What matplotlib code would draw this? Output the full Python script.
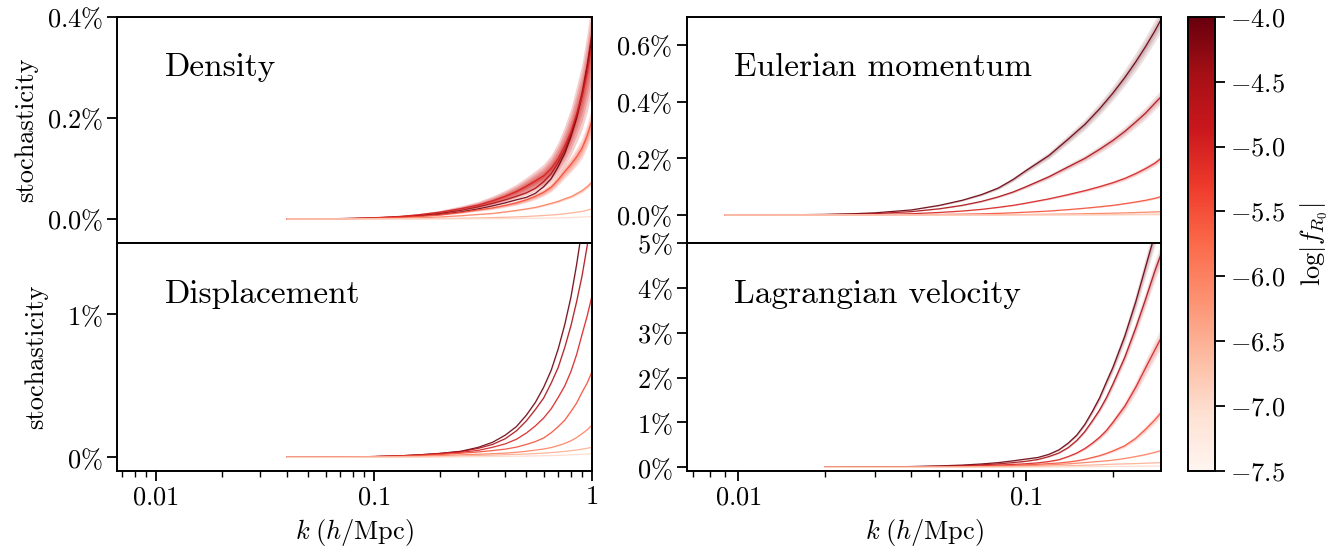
import numpy as np
import matplotlib
matplotlib.use("Agg")
import matplotlib.pyplot as plt
from matplotlib.ticker import FuncFormatter, MultipleLocator, LogLocator, NullFormatter
from matplotlib.colors import Normalize
from matplotlib.cm import ScalarMappable

plt.rcParams["font.family"] = ["cmr10"]
plt.rcParams["mathtext.fontset"] = "cm"
plt.rcParams["axes.unicode_minus"] = False
plt.rcParams["axes.formatter.use_mathtext"] = True

# log10 |f_R0| of each model
log_fr0 = [-4.0, -4.5, -5.0, -5.5, -6.0, -6.5, -7.0]

# wavenumbers (h/Mpc) shared by the two left panels
k_left = [0.04, 0.06, 0.08, 0.1, 0.13, 0.16, 0.2, 0.25, 0.3, 0.35, 0.4, 0.45,
          0.5, 0.55, 0.6, 0.65, 0.7, 0.75, 0.8, 0.85, 0.9, 0.95, 1.0]

# stochasticity in percent, one row per log_fr0 value
density = [
    [0, 0.0003, 0.001, 0.002, 0.004, 0.006, 0.009, 0.014, 0.020, 0.026, 0.032, 0.038,
     0.043, 0.051, 0.064, 0.080, 0.104, 0.130, 0.163, 0.200, 0.245, 0.300, 0.360],
    [0, 0.0004, 0.0012, 0.0022, 0.0045, 0.007, 0.011, 0.017, 0.024, 0.031, 0.038, 0.045,
     0.052, 0.061, 0.074, 0.090, 0.112, 0.137, 0.168, 0.205, 0.250, 0.305, 0.370],
    [0, 0.0004, 0.0012, 0.0025, 0.005, 0.0085, 0.0135, 0.0205, 0.0275, 0.036, 0.045, 0.0545,
     0.065, 0.0755, 0.0855, 0.100, 0.120, 0.145, 0.1725, 0.2075, 0.2425, 0.290, 0.345],
    [0, 0.0002, 0.0006, 0.0015, 0.003, 0.005, 0.008, 0.013, 0.018, 0.022, 0.027, 0.032,
     0.038, 0.045, 0.053, 0.063, 0.078, 0.094, 0.108, 0.123, 0.140, 0.165, 0.195],
    [0, 0.0001, 0.0003, 0.0008, 0.0015, 0.0025, 0.004, 0.0065, 0.009, 0.011, 0.014, 0.017,
     0.020, 0.023, 0.027, 0.031, 0.035, 0.040, 0.044, 0.050, 0.056, 0.064, 0.073],
    [0, 0.0, 0.0001, 0.0002, 0.0004, 0.0006, 0.001, 0.0015, 0.002, 0.0028, 0.0035, 0.0042,
     0.005, 0.006, 0.007, 0.008, 0.009, 0.0105, 0.012, 0.0135, 0.015, 0.0175, 0.020],
    [0, 0.0, 0.0, 0.0001, 0.0001, 0.0002, 0.0003, 0.0004, 0.0005, 0.0007, 0.0009, 0.0011,
     0.0013, 0.0015, 0.0018, 0.002, 0.0023, 0.0026, 0.003, 0.0034, 0.0038, 0.0044, 0.005],
]
displacement = [
    [0, 0.001, 0.003, 0.005, 0.010, 0.017, 0.027, 0.042, 0.069, 0.105, 0.155, 0.215,
     0.295, 0.385, 0.490, 0.610, 0.760, 0.930, 1.120, 1.350, 1.600, 1.900, 2.200],
    [0, 0.001, 0.003, 0.005, 0.010, 0.016, 0.026, 0.040, 0.062, 0.090, 0.130, 0.185,
     0.255, 0.335, 0.415, 0.520, 0.630, 0.770, 0.920, 1.090, 1.270, 1.480, 1.720],
    [0, 0.001, 0.003, 0.005, 0.009, 0.015, 0.024, 0.035, 0.048, 0.070, 0.094, 0.126,
     0.170, 0.220, 0.275, 0.340, 0.420, 0.500, 0.600, 0.720, 0.860, 0.990, 1.130],
    [0, 0.001, 0.002, 0.004, 0.008, 0.012, 0.019, 0.028, 0.037, 0.047, 0.057, 0.071,
     0.090, 0.110, 0.135, 0.172, 0.215, 0.260, 0.320, 0.380, 0.455, 0.520, 0.600],
    [0, 0.0005, 0.001, 0.002, 0.004, 0.007, 0.011, 0.017, 0.021, 0.025, 0.029, 0.035,
     0.042, 0.050, 0.058, 0.068, 0.082, 0.097, 0.115, 0.138, 0.165, 0.192, 0.225],
    [0, 0.0002, 0.0005, 0.001, 0.002, 0.003, 0.005, 0.009, 0.013, 0.015, 0.018, 0.020,
     0.023, 0.026, 0.029, 0.033, 0.037, 0.041, 0.046, 0.051, 0.057, 0.063, 0.070],
    [0, 0.0001, 0.0002, 0.0004, 0.0007, 0.001, 0.002, 0.003, 0.005, 0.0055, 0.0065, 0.0075,
     0.0085, 0.0095, 0.011, 0.012, 0.0135, 0.015, 0.017, 0.019, 0.021, 0.023, 0.026],
]

# wavenumbers (h/Mpc) for the Eulerian momentum panel
k_mom = [0.009, 0.012, 0.015, 0.02, 0.025, 0.03, 0.04, 0.05, 0.06, 0.07, 0.08, 0.09,
         0.1, 0.12, 0.14, 0.16, 0.18, 0.2, 0.22, 0.24, 0.26, 0.28, 0.294]
momentum = [
    [0, 0.0003, 0.0008, 0.0022, 0.0045, 0.0078, 0.018, 0.034, 0.052, 0.072, 0.095, 0.125,
     0.157, 0.210, 0.268, 0.320, 0.375, 0.430, 0.485, 0.540, 0.595, 0.650, 0.690],
    [0, 0.0002, 0.0005, 0.0014, 0.0028, 0.005, 0.012, 0.022, 0.034, 0.048, 0.064, 0.081,
     0.100, 0.135, 0.170, 0.200, 0.232, 0.263, 0.295, 0.328, 0.360, 0.395, 0.417],
    [0, 0.0001, 0.0002, 0.0006, 0.0012, 0.002, 0.0045, 0.009, 0.014, 0.020, 0.027, 0.034,
     0.042, 0.057, 0.072, 0.086, 0.100, 0.114, 0.129, 0.146, 0.164, 0.183, 0.200],
    [0, 0.0, 0.0001, 0.0002, 0.0004, 0.0006, 0.0012, 0.002, 0.003, 0.0042, 0.0058, 0.0078,
     0.010, 0.014, 0.019, 0.024, 0.029, 0.034, 0.040, 0.046, 0.052, 0.059, 0.065],
    [0, 0.0, 0.0, 0.0, 0.0001, 0.0001, 0.0002, 0.0004, 0.0006, 0.0008, 0.001, 0.0014,
     0.0018, 0.0026, 0.0035, 0.0045, 0.0055, 0.0065, 0.0076, 0.0087, 0.0098, 0.011, 0.012],
    [0, 0.0, 0.0, 0.0, 0.0, 0.0, 0.0001, 0.0001, 0.0002, 0.0002, 0.0003, 0.0004,
     0.0005, 0.0007, 0.0009, 0.0011, 0.0014, 0.0016, 0.0019, 0.0022, 0.0025, 0.0028, 0.003],
    [0, 0.0, 0.0, 0.0, 0.0, 0.0, 0.0, 0.0, 0.0, 0.0001, 0.0001, 0.0001,
     0.0001, 0.0002, 0.0002, 0.0003, 0.0003, 0.0004, 0.0004, 0.0005, 0.0006, 0.0006, 0.0007],
]

# wavenumbers (h/Mpc) for the Lagrangian velocity panel
k_vel = [0.02, 0.03, 0.04, 0.05, 0.06, 0.07, 0.08, 0.09, 0.1, 0.11, 0.12, 0.13,
         0.14, 0.15, 0.16, 0.17, 0.18, 0.19, 0.2, 0.22, 0.24, 0.26, 0.28, 0.294]
velocity = [
    [0, 0.008, 0.018, 0.032, 0.050, 0.075, 0.105, 0.145, 0.185, 0.220, 0.290, 0.390,
     0.540, 0.720, 0.960, 1.250, 1.550, 1.900, 2.220, 2.920, 3.680, 4.470, 5.200, 5.700],
    [0, 0.006, 0.013, 0.024, 0.037, 0.055, 0.077, 0.105, 0.135, 0.175, 0.240, 0.320,
     0.440, 0.600, 0.800, 1.040, 1.280, 1.550, 1.850, 2.450, 3.100, 3.750, 4.380, 4.750],
    [0, 0.004, 0.009, 0.016, 0.025, 0.036, 0.050, 0.065, 0.080, 0.100, 0.130, 0.170,
     0.240, 0.320, 0.420, 0.540, 0.670, 0.820, 1.000, 1.360, 1.780, 2.220, 2.620, 2.880],
    [0, 0.003, 0.006, 0.011, 0.017, 0.024, 0.033, 0.043, 0.055, 0.068, 0.083, 0.097,
     0.118, 0.145, 0.178, 0.220, 0.260, 0.310, 0.365, 0.480, 0.645, 0.850, 1.060, 1.220],
    [0, 0.002, 0.004, 0.007, 0.011, 0.016, 0.022, 0.028, 0.036, 0.045, 0.055, 0.066,
     0.078, 0.092, 0.107, 0.120, 0.133, 0.146, 0.160, 0.198, 0.240, 0.285, 0.335, 0.375],
    [0, 0.001, 0.002, 0.003, 0.005, 0.007, 0.009, 0.012, 0.018, 0.022, 0.027, 0.032,
     0.037, 0.042, 0.047, 0.052, 0.058, 0.064, 0.070, 0.077, 0.084, 0.092, 0.100, 0.105],
    [0, 0.0003, 0.0006, 0.001, 0.0015, 0.002, 0.0027, 0.0035, 0.005, 0.006, 0.0075, 0.009,
     0.0105, 0.012, 0.0135, 0.015, 0.0165, 0.018, 0.020, 0.022, 0.024, 0.026, 0.028, 0.030],
]

panel_titles = ["Density", "Eulerian momentum", "Displacement", "Lagrangian velocity"]

cmap = plt.get_cmap("Reds")
norm = Normalize(vmin=-7.5, vmax=-4.0)

W, H = 1344, 552
fig = plt.figure(figsize=(W / 100, H / 100), dpi=100)


def frac(x0, y0, x1, y1):
    return [x0 / W, 1 - y1 / H, (x1 - x0) / W, (y1 - y0) / H]


ax_den = fig.add_axes(frac(117.3, 17, 592, 243))
ax_dis = fig.add_axes(frac(117.3, 243, 592, 470.7))
ax_mom = fig.add_axes(frac(687, 17, 1161, 243))
ax_vel = fig.add_axes(frac(687, 243, 1161, 470.7))
cax = fig.add_axes(frac(1188, 17, 1215, 470.7))


def draw_curves(ax, k, rows, spreads, alpha):
    """Core line per model plus a soft scatter envelope around it."""
    k = np.asarray(k)
    for lf, vals, sp in zip(log_fr0, rows, spreads):
        c = cmap(norm(lf))
        v = np.asarray(vals)
        for f in sp:
            ax.fill_between(k, v * (1 - f), v * (1 + f), color=c, alpha=alpha, lw=0)
        ax.plot(k, v, color=c, lw=0.9, alpha=0.9)


den_spread = [[0.015], [0.02], [0.27, 0.2, 0.14, 0.09, 0.05, 0.02], [0.14, 0.09, 0.04],
              [0.07, 0.03], [0.04], [0.04]]
dis_spread = [[0.015]] * 7
soft_spread = [[0.06, 0.035, 0.015]] * 7
vel_spread = [[0.05, 0.03, 0.012], [0.05, 0.03, 0.012], [0.08, 0.05, 0.02],
              [0.09, 0.05, 0.02], [0.06, 0.03], [0.05], [0.05]]

draw_curves(ax_den, k_left, density, den_spread, 0.22)
draw_curves(ax_dis, k_left, displacement, dis_spread, 0.15)
draw_curves(ax_mom, k_mom, momentum, soft_spread, 0.12)
draw_curves(ax_vel, k_vel, velocity, vel_spread, 0.12)


def pct(decimals):
    def f(v, pos):
        if abs(v) < 1e-9:
            v = 0.0
        return rf"${v:.{decimals}f}\%$"
    return FuncFormatter(f)


def klabel(v, pos):
    if abs(v - 1) < 1e-9:
        return r"$1$"
    return rf"${v:g}$"


for ax in (ax_den, ax_dis, ax_mom, ax_vel):
    ax.set_xscale("log")
    for s in ax.spines.values():
        s.set_linewidth(1.4)
    ax.tick_params(axis="both", which="major", length=7, width=1.3, labelsize=19, direction="out")
    ax.tick_params(axis="both", which="minor", length=4, width=1.0, direction="out")
    ax.xaxis.set_major_locator(LogLocator(base=10))
    ax.xaxis.set_minor_locator(LogLocator(base=10, subs=np.arange(2, 10)))
    ax.xaxis.set_minor_formatter(NullFormatter())
    ax.xaxis.set_major_formatter(FuncFormatter(klabel))

for ax in (ax_den, ax_dis):
    ax.set_xlim(0.00665, 1.0)
for ax in (ax_mom, ax_vel):
    ax.set_xlim(0.00665, 0.294)

for ax in (ax_den, ax_mom):
    ax.tick_params(axis="x", which="both", bottom=False, labelbottom=False)

ax_den.set_ylim(-0.0475, 0.4)
ax_den.yaxis.set_major_locator(MultipleLocator(0.2))
ax_den.yaxis.set_major_formatter(pct(1))

ax_dis.set_ylim(-0.094, 1.5)
ax_dis.yaxis.set_major_locator(MultipleLocator(1.0))
ax_dis.yaxis.set_major_formatter(pct(0))

ax_mom.set_ylim(-0.0988, 0.699)
ax_mom.yaxis.set_major_locator(MultipleLocator(0.2))
ax_mom.yaxis.set_major_formatter(pct(1))

ax_vel.set_ylim(-0.075, 5.0)
ax_vel.yaxis.set_major_locator(MultipleLocator(1.0))
ax_vel.yaxis.set_major_formatter(pct(0))

for ax, title in zip((ax_den, ax_mom, ax_dis, ax_vel), panel_titles):
    ax.text(0.10, 0.737, title, transform=ax.transAxes, fontsize=24,
            ha="left", va="baseline")

ax_den.set_ylabel("stochasticity", fontsize=19)
ax_den.yaxis.set_label_coords(-0.166, 0.5)
ax_dis.set_ylabel("stochasticity", fontsize=19)
ax_dis.yaxis.set_label_coords(-0.145, 0.5)

for ax in (ax_dis, ax_vel):
    ax.set_xlabel(r"$k\;(h/\mathrm{Mpc})$", fontsize=19, labelpad=6)

sm = ScalarMappable(norm=norm, cmap=cmap)
cb = fig.colorbar(sm, cax=cax, ticks=np.arange(-7.5, -3.99, 0.5))
cb.outline.set_linewidth(1.4)
cb.ax.tick_params(length=7, width=1.3, labelsize=19)
cb.ax.yaxis.set_major_formatter(FuncFormatter(lambda v, p: rf"${v:.1f}$"))
cb.set_label(r"$\log|f_{R_0}|$", fontsize=19, labelpad=10)

fig.savefig("out.png", dpi=100)
